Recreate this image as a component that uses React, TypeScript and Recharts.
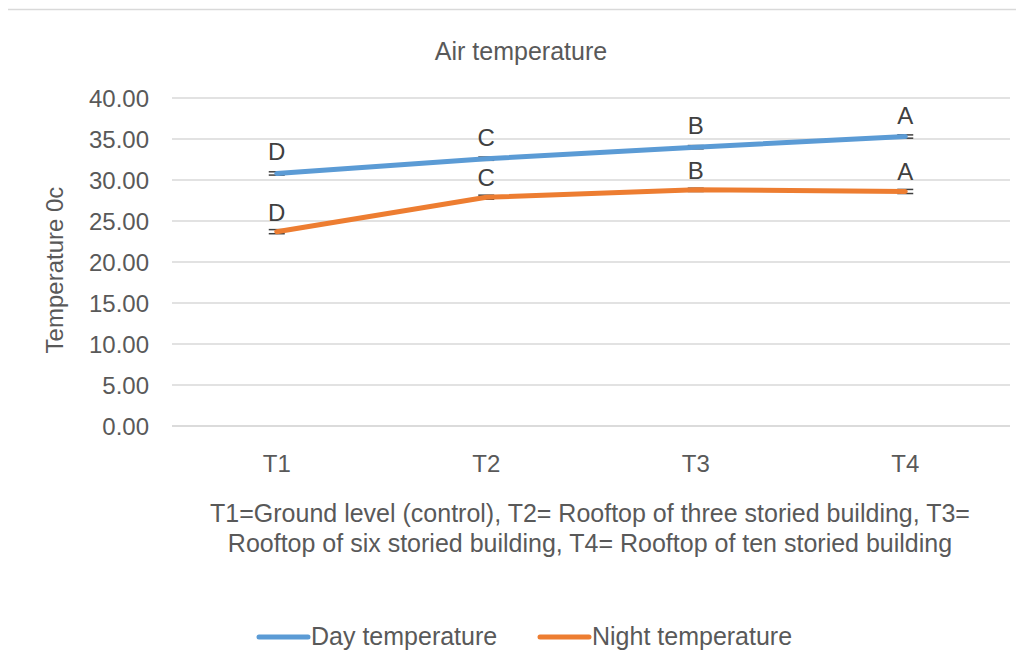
import React from 'react';
import { LineChart, Line, XAxis, YAxis, CartesianGrid, ErrorBar, LabelList, Customized } from 'recharts';

const categories = ['T1', 'T2', 'T3', 'T4'];
const dayValues = [30.8, 32.6, 34.0, 35.3];
const nightValues = [23.7, 27.9, 28.8, 28.6];
const dayErrors = [0.2, 0.2, 0.2, 0.2];
const nightErrors = [0.25, 0.25, 0.2, 0.25];
const dayLetters = ['D', 'C', 'B', 'A'];
const nightLetters = ['D', 'C', 'B', 'A'];
const yTicks = [0, 5, 10, 15, 20, 25, 30, 35, 40];
const chartTitle = 'Air temperature';
const yAxisTitle = 'Temperature 0c';
const footnoteLines = [
  'T1=Ground level (control), T2= Rooftop of three storied building, T3=',
  'Rooftop of six storied building, T4= Rooftop of ten storied building',
];
const seriesNames = ['Day temperature', 'Night temperature'];
const seriesColors = ['#5b9bd5', '#ed7d31'];

const data = categories.map((c, i) => ({
  category: c,
  day: dayValues[i],
  dayErr: dayErrors[i],
  dayLetter: dayLetters[i],
  night: nightValues[i],
  nightErr: nightErrors[i],
  nightLetter: nightLetters[i],
}));

const FONT = '"Liberation Sans", Arial, sans-serif';
const TEXT = '#595959';

const Decorations = () => (
  <g fontFamily={FONT}>
    <rect x={5.5} y={9.5} width={1100} height={700} fill="none" stroke="#d9d9d9" strokeWidth={1.5} />
    <text x={521} y={60} textAnchor="middle" fontSize={25} fill={TEXT}>{chartTitle}</text>
    <text x={0} y={0} transform="translate(63,270) rotate(-90)" textAnchor="middle" fontSize={24} fill={TEXT}>
      {yAxisTitle}
    </text>
    {footnoteLines.map((line, i) => (
      <text key={i} x={590} y={522 + i * 30} textAnchor="middle" fontSize={25} fill={TEXT}>{line}</text>
    ))}
    <line x1={259} x2={308} y1={637} y2={637} stroke={seriesColors[0]} strokeWidth={5} strokeLinecap="round" />
    <text x={311} y={645} fontSize={25} fill={TEXT}>{seriesNames[0]}</text>
    <line x1={540} x2={589} y1={637} y2={637} stroke={seriesColors[1]} strokeWidth={5} strokeLinecap="round" />
    <text x={592} y={645} fontSize={25} fill={TEXT}>{seriesNames[1]}</text>
  </g>
);

export default function App() {
  return (
    <div style={{ margin: -8, width: 1024, height: 669, background: '#fff' }}>
      <LineChart width={1024} height={669} data={data} margin={{ top: 98, right: 14, left: 0, bottom: 213 }}>
        <Customized component={Decorations} />
        <CartesianGrid vertical={false} stroke="#d9d9d9" strokeWidth={1.3} />
        <XAxis
          dataKey="category"
          height={30}
          padding={{ left: 104.75, right: 104.75 }}
          axisLine={{ stroke: '#d9d9d9', strokeWidth: 1.3 }}
          tickLine={false}
          tickSize={0}
          tickMargin={29}
          tick={{ fill: TEXT, fontSize: 24, fontFamily: FONT }}
        />
        <YAxis
          width={172}
          domain={[0, 40]}
          ticks={yTicks}
          tickFormatter={(v: number) => v.toFixed(2)}
          axisLine={false}
          tickLine={false}
          tickSize={0}
          tickMargin={23}
          tick={{ fill: TEXT, fontSize: 24, fontFamily: FONT }}
        />
        <Line
          type="linear"
          dataKey="day"
          name={seriesNames[0]}
          stroke={seriesColors[0]}
          strokeWidth={5}
          strokeLinecap="round"
          dot={false}
          isAnimationActive={false}
        >
          <ErrorBar dataKey="dayErr" width={8} stroke="#404040" strokeWidth={1.5} direction="y" />
          <LabelList dataKey="dayLetter" position="top" offset={13} fill="#404040" fontSize={24} fontFamily={FONT} />
        </Line>
        <Line
          type="linear"
          dataKey="night"
          name={seriesNames[1]}
          stroke={seriesColors[1]}
          strokeWidth={5}
          strokeLinecap="round"
          dot={false}
          isAnimationActive={false}
        >
          <ErrorBar dataKey="nightErr" width={8} stroke="#404040" strokeWidth={1.5} direction="y" />
          <LabelList dataKey="nightLetter" position="top" offset={11} fill="#404040" fontSize={24} fontFamily={FONT} />
        </Line>
      </LineChart>
    </div>
  );
}
